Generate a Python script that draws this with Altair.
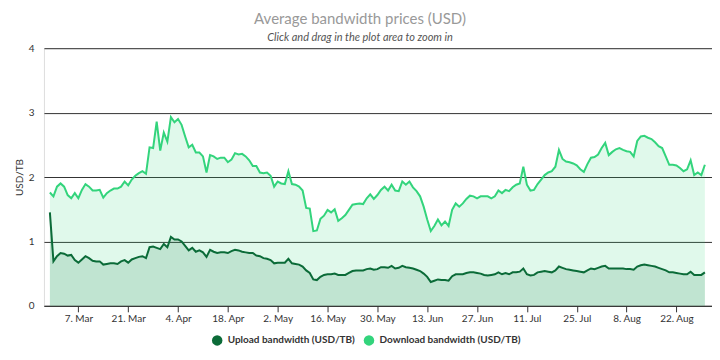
import altair as alt
import pandas as pd

# ---- data ----
start_date = "2022-02-27"

download = [
    1.76, 1.70, 1.85, 1.90, 1.85, 1.72, 1.67, 1.75, 1.67, 1.80,
    1.89, 1.85, 1.79, 1.79, 1.80, 1.68, 1.75, 1.79, 1.82, 1.82,
    1.85, 1.93, 1.87, 1.96, 2.02, 2.06, 2.09, 2.05, 2.46, 2.45,
    2.86, 2.41, 2.69, 2.55, 2.93, 2.85, 2.90, 2.81, 2.63, 2.46,
    2.50, 2.38, 2.38, 2.32, 2.07, 2.34, 2.32, 2.28, 2.30, 2.30,
    2.23, 2.27, 2.37, 2.35, 2.36, 2.32, 2.26,
    2.17, 2.17, 2.07, 2.06, 2.07, 2.02, 1.85, 1.93, 1.90, 1.89, 2.09, 1.89, 1.88, 1.85,
    1.79, 1.52, 1.51, 1.16, 1.17, 1.35, 1.40, 1.49, 1.45, 1.50,
    1.32, 1.36, 1.41, 1.49, 1.57, 1.58, 1.59, 1.58, 1.67, 1.73,
    1.66, 1.72, 1.80, 1.85, 1.79, 1.88, 1.79, 1.78, 1.93, 1.88,
    1.93, 1.84, 1.78, 1.70, 1.54, 1.34, 1.16, 1.24, 1.34, 1.25,
    1.31, 1.24, 1.49, 1.59, 1.54, 1.59, 1.66, 1.71, 1.70, 1.67,
    1.70, 1.70, 1.70, 1.67, 1.70, 1.79, 1.75, 1.80, 1.78, 1.84,
    1.88, 1.90, 2.16, 1.88, 1.79, 1.80, 1.89, 1.96, 2.03, 2.07,
    2.09, 2.16, 2.42, 2.28, 2.24, 2.23, 2.21, 2.18, 2.12, 2.08,
    2.20, 2.30, 2.31, 2.35, 2.45, 2.53, 2.34, 2.39, 2.43, 2.45,
    2.42, 2.40, 2.39, 2.32, 2.56, 2.63, 2.64, 2.61, 2.59, 2.54,
    2.48, 2.45, 2.32, 2.19, 2.19, 2.18, 2.14, 2.09, 2.12, 2.26,
    2.03, 2.07, 2.03, 2.19,
]

upload = [
    1.45, 0.69, 0.77, 0.82, 0.81, 0.78, 0.79, 0.71, 0.67, 0.72,
    0.77, 0.74, 0.70, 0.69, 0.69, 0.64, 0.65, 0.66, 0.66, 0.65,
    0.69, 0.71, 0.67, 0.72, 0.74, 0.76, 0.77, 0.74, 0.91, 0.92,
    0.90, 0.88, 0.96, 0.91, 1.07, 1.03, 1.03, 1.00, 0.93, 0.86,
    0.90, 0.84, 0.86, 0.83, 0.76, 0.87, 0.84, 0.82, 0.83, 0.83,
    0.82, 0.85, 0.87, 0.86, 0.84, 0.83, 0.82,
    0.82, 0.78, 0.77, 0.74, 0.73, 0.71, 0.66, 0.67, 0.67, 0.67, 0.73, 0.66, 0.65, 0.64,
    0.61, 0.55, 0.51, 0.41, 0.40, 0.45, 0.48, 0.49, 0.49, 0.50,
    0.48, 0.48, 0.48, 0.51, 0.54, 0.55, 0.55, 0.55, 0.57, 0.58,
    0.56, 0.57, 0.60, 0.60, 0.59, 0.62, 0.58, 0.59, 0.62, 0.60,
    0.59, 0.58, 0.56, 0.54, 0.50, 0.45, 0.37, 0.39, 0.41, 0.40,
    0.40, 0.39, 0.46, 0.49, 0.49, 0.49, 0.51, 0.52, 0.52, 0.51,
    0.50, 0.48, 0.47, 0.48, 0.49, 0.52, 0.49, 0.51, 0.49, 0.52,
    0.52, 0.53, 0.58, 0.49, 0.47, 0.48, 0.52, 0.53, 0.54, 0.53,
    0.52, 0.55, 0.61, 0.59, 0.57, 0.56, 0.55, 0.54, 0.53, 0.52,
    0.55, 0.58, 0.57, 0.59, 0.61, 0.62, 0.58, 0.58, 0.58, 0.58,
    0.58, 0.57, 0.57, 0.56, 0.61, 0.63, 0.64, 0.63, 0.62, 0.61,
    0.59, 0.57, 0.55, 0.52, 0.52, 0.51, 0.50, 0.49, 0.49, 0.53,
    0.48, 0.48, 0.48, 0.52,
]

series_names = ["Upload bandwidth (USD/TB)", "Download bandwidth (USD/TB)"]
series_colors = ["#0b6b38", "#33d47c"]
tick_dates = [(2022, 3, 7), (2022, 3, 21), (2022, 4, 4), (2022, 4, 18), (2022, 5, 2),
              (2022, 5, 16), (2022, 5, 30), (2022, 6, 13), (2022, 6, 27), (2022, 7, 11),
              (2022, 7, 25), (2022, 8, 8), (2022, 8, 22)]
y_ticks = [0, 1, 2, 3, 4]

dates = pd.date_range(start_date, periods=len(download), freq="D").strftime("%Y-%m-%d")
df = pd.DataFrame({"date": dates, "up": upload, "down": download})
legend_df = pd.DataFrame({"series": series_names})

FONT = "Lato"

x_enc = alt.X(
    "date:T",
    scale=alt.Scale(
        type="utc",
        domain=[alt.DateTime(year=2022, month=2, date=25, hours=8, utc=True),
                alt.DateTime(year=2022, month=9, date=1, utc=True)],
    ),
    axis=alt.Axis(
        values=[alt.DateTime(year=y, month=m, date=d, utc=True) for (y, m, d) in tick_dates],
        labelExpr="utcFormat(datum.value, '%-d. %b')", title=None, grid=False,
        domainColor="#333333", tickColor="#333333", tickSize=6,
        labelFont=FONT, labelFontSize=10, labelColor="#333333", labelPadding=2,
        labelFlush=False, labelOverlap=False,
    ),
)

y_scale = alt.Scale(domain=[0, 4], nice=False, zero=True)
y_axis = alt.Axis(
    values=y_ticks, title="USD/TB", grid=True, gridColor="#333333", gridWidth=1,
    domain=False, ticks=False, labelPadding=10,
    labelFont=FONT, labelFontSize=10, labelColor="#333333",
    titleFont=FONT, titleFontSize=10, titleFontWeight="normal", titleColor="#333333",
    titlePadding=4,
)

base = alt.Chart(df)

area_down = base.mark_area(fill="#2ed47a", fillOpacity=0.15, interpolate="linear").encode(
    x=x_enc, y=alt.Y("down:Q", scale=y_scale, axis=y_axis),
)
area_up = base.mark_area(fill="#0b6e3b", fillOpacity=0.15, interpolate="linear").encode(
    x=x_enc, y=alt.Y("up:Q", scale=y_scale, axis=y_axis),
)
line_down = base.mark_line(strokeWidth=2, color=series_colors[1]).encode(
    x=x_enc, y=alt.Y("down:Q", scale=y_scale, axis=y_axis)
)
line_up = base.mark_line(strokeWidth=2, color=series_colors[0]).encode(
    x=x_enc, y=alt.Y("up:Q", scale=y_scale, axis=y_axis)
)

legend_layer = alt.Chart(legend_df).mark_point(filled=True, opacity=0, size=1).encode(
    color=alt.Color(
        "series:N",
        scale=alt.Scale(domain=series_names, range=series_colors),
        legend=alt.Legend(
            orient="none", legendX=168, legendY=287, direction="horizontal", title=None,
            symbolType="circle", symbolSize=110, symbolStrokeWidth=0, symbolOpacity=1,
            labelFont=FONT, labelFontSize=10, labelFontWeight="bold", labelColor="#333333",
            columnPadding=8, labelOffset=5,
        ),
    ),
)

chart = (
    alt.layer(area_down, area_up, line_down, line_up, legend_layer)
    .properties(
        width=669,
        height=258,
        autosize=alt.AutoSizeParams(type="none"),
        padding={"left": 36, "top": 40, "right": 0, "bottom": 50},
        title=alt.TitleParams(
            text="Average bandwidth prices (USD)",
            subtitle="Click and drag in the plot area to zoom in",
            font=FONT, fontSize=15, fontWeight="normal", color="#999999",
            subtitleFont=FONT, subtitleFontSize=11, subtitleFontStyle="italic",
            subtitleColor="#555555", subtitlePadding=5,
            anchor="middle", dx=-18, offset=0,
        ),
    )
    .configure_view(strokeWidth=0, stroke="transparent")
    .configure(background="white")
)

chart.save("out.html", embed_options={"renderer": "svg", "actions": False})
